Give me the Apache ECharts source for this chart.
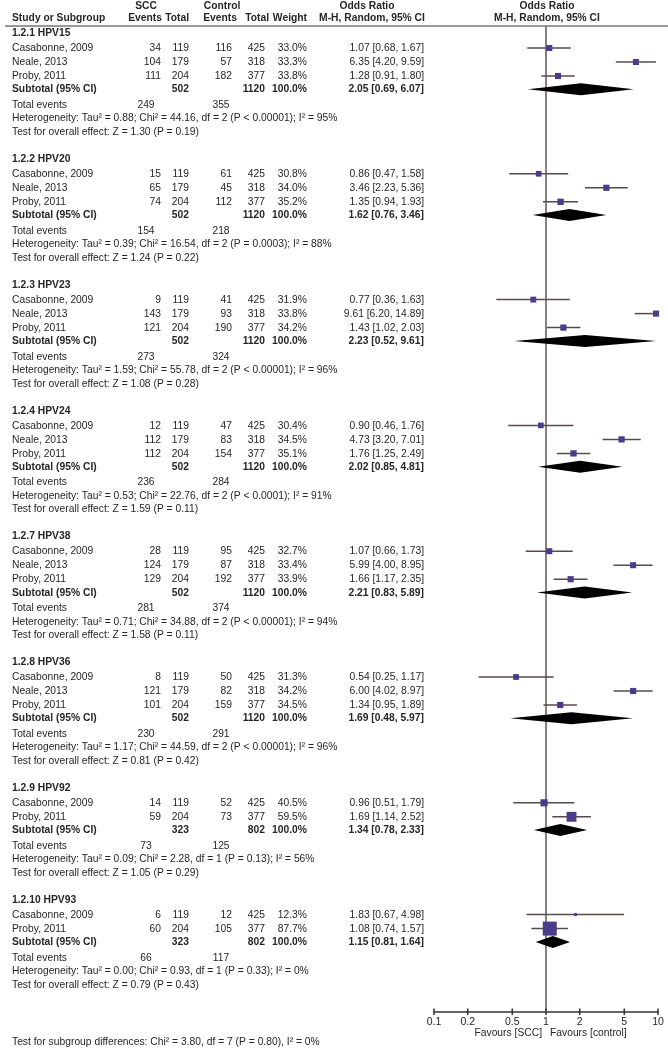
<!DOCTYPE html>
<html><head><meta charset="utf-8">
<script src="https://cdn.jsdelivr.net/npm/echarts@6/dist/echarts.min.js"></script>
<style>html,body{margin:0;padding:0;background:#fff}#c{width:668px;height:1048px}</style>
</head><body><div id="c"></div>
<script>
// ---------------- data ----------------
const subgroupNames = ['1.2.1 HPV15','1.2.2 HPV20','1.2.3 HPV23','1.2.4 HPV24','1.2.7 HPV38','1.2.8 HPV36','1.2.9 HPV92','1.2.10 HPV93'];
const studyNames = [
  ['Casabonne, 2009','Neale, 2013','Proby, 2011'],
  ['Casabonne, 2009','Neale, 2013','Proby, 2011'],
  ['Casabonne, 2009','Neale, 2013','Proby, 2011'],
  ['Casabonne, 2009','Neale, 2013','Proby, 2011'],
  ['Casabonne, 2009','Neale, 2013','Proby, 2011'],
  ['Casabonne, 2009','Neale, 2013','Proby, 2011'],
  ['Casabonne, 2009','Proby, 2011'],
  ['Casabonne, 2009','Proby, 2011']
];
const sccEvents  = [[34,104,111],[15,65,74],[9,143,121],[12,112,112],[28,124,129],[8,121,101],[14,59],[6,60]];
const sccTotals  = [[119,179,204],[119,179,204],[119,179,204],[119,179,204],[119,179,204],[119,179,204],[119,204],[119,204]];
const ctrlEvents = [[116,57,182],[61,45,112],[41,93,190],[47,83,154],[95,87,192],[50,82,159],[52,73],[12,105]];
const ctrlTotals = [[425,318,377],[425,318,377],[425,318,377],[425,318,377],[425,318,377],[425,318,377],[425,377],[425,377]];
const weights    = [[33.0,33.3,33.8],[30.8,34.0,35.2],[31.9,33.8,34.2],[30.4,34.5,35.1],[32.7,33.4,33.9],[31.3,34.2,34.5],[40.5,59.5],[12.3,87.7]];
const oddsRatios = [[1.07,6.35,1.28],[0.86,3.46,1.35],[0.77,9.61,1.43],[0.90,4.73,1.76],[1.07,5.99,1.66],[0.54,6.00,1.34],[0.96,1.69],[1.83,1.08]];
const ciLower    = [[0.68,4.20,0.91],[0.47,2.23,0.94],[0.36,6.20,1.02],[0.46,3.20,1.25],[0.66,4.00,1.17],[0.25,4.02,0.95],[0.51,1.14],[0.67,0.74]];
const ciUpper    = [[1.67,9.59,1.80],[1.58,5.36,1.93],[1.63,14.89,2.03],[1.76,7.01,2.49],[1.73,8.95,2.35],[1.17,8.97,1.89],[1.79,2.52],[4.98,1.57]];
const subtotalScc   = [502,502,502,502,502,502,323,323];
const subtotalCtrl  = [1120,1120,1120,1120,1120,1120,802,802];
const subtotalOR    = [2.05,1.62,2.23,2.02,2.21,1.69,1.34,1.15];
const subtotalLower = [0.69,0.76,0.52,0.85,0.83,0.48,0.78,0.81];
const subtotalUpper = [6.07,3.46,9.61,4.81,5.89,5.97,2.33,1.64];
const totalEventsScc  = [249,154,273,236,281,230,73,66];
const totalEventsCtrl = [355,218,324,284,374,291,125,117];
const tau2Values = ['0.88','0.39','1.59','0.53','0.71','1.17','0.09','0.00'];
const chi2Values = ['44.16','16.54','55.78','22.76','34.88','44.59','2.28','0.93'];
const dfValues   = [2,2,2,2,2,2,1,1];
const pHetText   = ['< 0.00001','= 0.0003','< 0.00001','< 0.0001','< 0.00001','< 0.00001','= 0.13','= 0.33'];
const i2Values   = [95,88,96,91,94,96,56,0];
const zValues    = ['1.30','1.24','1.08','1.59','1.58','0.81','1.05','0.79'];
const pOverall   = ['0.19','0.22','0.28','0.11','0.11','0.42','0.29','0.43'];
const tickValues = [0.1,0.2,0.5,1,2,5,10];
const subgroupTest = 'Test for subgroup differences: Chi\u00b2 = 3.80, df = 7 (P = 0.80), I\u00b2 = 0%';

// ---------------- layout ----------------
const L = {firstStudy:48, headerGap:15, studyStep:14, subGap:13.3, totalGap:15.5, lineStep:13.5, sectionGap:27,
           plotTop:26, plotBottom:1012};
const COL = {label:12, sccEv:161, sccTot:189, ctrlEv:232, ctrlTot:265, weight:307, ci:424, totScc:146, totCtrl:221};
const FONT = '"Liberation Sans", Arial, sans-serif';
const TXT = '#262626';

function txt(s, x, y, align, bold, size) {
  const f = (bold ? 'bold ' : '') + (size || 10.3) + 'px ' + FONT;
  return {type:'text', x:x, y:y, scaleY:1.1, silent:true,
    style:{text:String(s), font:f, fill:TXT, textAlign:align, align:align, textVerticalAlign:'middle', verticalAlign:'middle'}};
}
const f2 = v => v.toFixed(2);
const ciStr = (o,l,u) => f2(o) + ' [' + f2(l) + ', ' + f2(u) + ']';

const graphics = [];
const studyData = [];
const diamondData = [];

// header
graphics.push(txt('SCC', 146, 6, 'center', true));
graphics.push(txt('Control', 222, 6, 'center', true));
graphics.push(txt('Odds Ratio', 367, 6, 'center', true));
graphics.push(txt('Odds Ratio', 547, 6, 'center', true));
graphics.push(txt('Study or Subgroup', COL.label, 18, 'left', true));
graphics.push(txt('Events', 162, 18, 'right', true));
graphics.push(txt('Total', 189, 18, 'right', true));
graphics.push(txt('Events', 237, 18, 'right', true));
graphics.push(txt('Total', 269, 18, 'right', true));
graphics.push(txt('Weight', 307, 18, 'right', true));
graphics.push(txt('M-H, Random, 95% CI', 372, 18, 'center', true));
graphics.push(txt('M-H, Random, 95% CI', 547, 18, 'center', true));
graphics.push({type:'line', silent:true, shape:{x1:5, y1:26, x2:668, y2:26}, style:{stroke:'#7a7474', lineWidth:1.5}});

let first = L.firstStudy;
subgroupNames.forEach((name, k) => {
  graphics.push(txt(name, COL.label, first - L.headerGap, 'left', true));
  let y = first;
  studyNames[k].forEach((sn, i) => {
    y = first + i * L.studyStep;
    graphics.push(txt(sn, COL.label, y, 'left', false));
    graphics.push(txt(sccEvents[k][i], COL.sccEv, y, 'right', false));
    graphics.push(txt(sccTotals[k][i], COL.sccTot, y, 'right', false));
    graphics.push(txt(ctrlEvents[k][i], COL.ctrlEv, y, 'right', false));
    graphics.push(txt(ctrlTotals[k][i], COL.ctrlTot, y, 'right', false));
    graphics.push(txt(weights[k][i].toFixed(1) + '%', COL.weight, y, 'right', false));
    graphics.push(txt(ciStr(oddsRatios[k][i], ciLower[k][i], ciUpper[k][i]), COL.ci, y, 'right', false));
    studyData.push([oddsRatios[k][i], ciLower[k][i], ciUpper[k][i], y, 1.2 + 0.146 * weights[k][i]]);
  });
  const ys = y + L.subGap;
  graphics.push(txt('Subtotal (95% CI)', COL.label, ys, 'left', true));
  graphics.push(txt(subtotalScc[k], COL.sccTot, ys, 'right', true));
  graphics.push(txt(subtotalCtrl[k], COL.ctrlTot, ys, 'right', true));
  graphics.push(txt('100.0%', COL.weight, ys, 'right', true));
  graphics.push(txt(ciStr(subtotalOR[k], subtotalLower[k], subtotalUpper[k]), COL.ci, ys, 'right', true));
  diamondData.push([subtotalOR[k], subtotalLower[k], subtotalUpper[k], ys]);
  const yt = ys + L.totalGap;
  graphics.push(txt('Total events', COL.label, yt, 'left', false));
  graphics.push(txt(totalEventsScc[k], COL.totScc, yt, 'center', false));
  graphics.push(txt(totalEventsCtrl[k], COL.totCtrl, yt, 'center', false));
  const yh = yt + L.lineStep;
  graphics.push(txt('Heterogeneity: Tau\u00b2 = ' + tau2Values[k] + '; Chi\u00b2 = ' + chi2Values[k] + ', df = ' + dfValues[k] +
    ' (P ' + pHetText[k] + '); I\u00b2 = ' + i2Values[k] + '%', COL.label, yh, 'left', false));
  const yz = yh + L.lineStep;
  graphics.push(txt('Test for overall effect: Z = ' + zValues[k] + ' (P = ' + pOverall[k] + ')', COL.label, yz, 'left', false));
  first = yz + L.sectionGap + L.headerGap;
});

graphics.push(txt('Favours [SCC]', 542, 1033, 'right', false));
graphics.push(txt('Favours [control]', 550, 1033, 'left', false));
graphics.push(txt(subgroupTest, COL.label, 1042, 'left', false));

// ---------------- chart ----------------
const chart = echarts.init(document.getElementById('c'), null, {renderer:'canvas'});
chart.setOption({
  animation:false,
  backgroundColor:'#fff',
  grid:{left:434, right:10, top:L.plotTop, bottom:1048 - L.plotBottom, containLabel:false},
  xAxis:{type:'log', logBase:10, min:0.1, max:10,
    axisLine:{show:true, onZero:false, lineStyle:{color:'#333', width:1.5}},
    axisTick:{show:false},
    minorTick:{show:false},
    axisLabel:{customValues:tickValues, margin:5, color:TXT, fontSize:10.5, fontFamily:FONT,
      formatter: v => String(+Number(v).toPrecision(3))},
    splitLine:{show:false}},
  yAxis:{type:'value', min:L.plotTop, max:L.plotBottom, inverse:true, show:false, splitLine:{show:false}},
  series:[
    {type:'line', silent:true, symbol:'none', data:[[1, L.plotTop],[1, L.plotBottom]],
     lineStyle:{color:'#8a7e7e', width:2}, z:1},
    // axis ticks crossing the axis line
    {type:'custom', silent:true, z:4, data:tickValues.map(v => [v, L.plotBottom]), encode:{x:0, y:1},
     renderItem:(params, api) => {
       const p = api.coord([api.value(0), api.value(1)]);
       return {type:'line', shape:{x1:p[0], y1:p[1]-3.5, x2:p[0], y2:p[1]+3}, style:{stroke:'#333', lineWidth:1.5}};
     }},
    {type:'custom', silent:true, z:3, data:studyData, encode:{x:0, y:3},
     renderItem:(params, api) => {
       const o = api.value(0), lo = api.value(1), hi = api.value(2), y = api.value(3), s = api.value(4);
       const p = api.coord([o, y]);
       const a = api.coord([Math.max(lo, 0.1), y]);
       const b = api.coord([Math.min(hi, 10), y]);
       return {type:'group', children:[
         {type:'line', shape:{x1:a[0], y1:a[1], x2:b[0], y2:b[1]}, style:{stroke:'#574a4a', lineWidth:1.5}},
         {type:'rect', shape:{x:p[0]-s/2, y:p[1]-s/2, width:s, height:s}, style:{fill:'#4a3b8b'}}
       ]};
     }},
    {type:'custom', silent:true, z:3, data:diamondData, encode:{x:0, y:3},
     renderItem:(params, api) => {
       const o = api.value(0), lo = api.value(1), hi = api.value(2), y = api.value(3);
       const c = api.coord([o, y]), a = api.coord([lo, y]), b = api.coord([hi, y]);
       const h = 6;
       return {type:'polygon', shape:{points:[[a[0], c[1]],[c[0], c[1]-h],[b[0], c[1]],[c[0], c[1]+h]]}, style:{fill:'#000'}};
     }}
  ],
  graphic:{elements:graphics}
});
</script></body></html>
